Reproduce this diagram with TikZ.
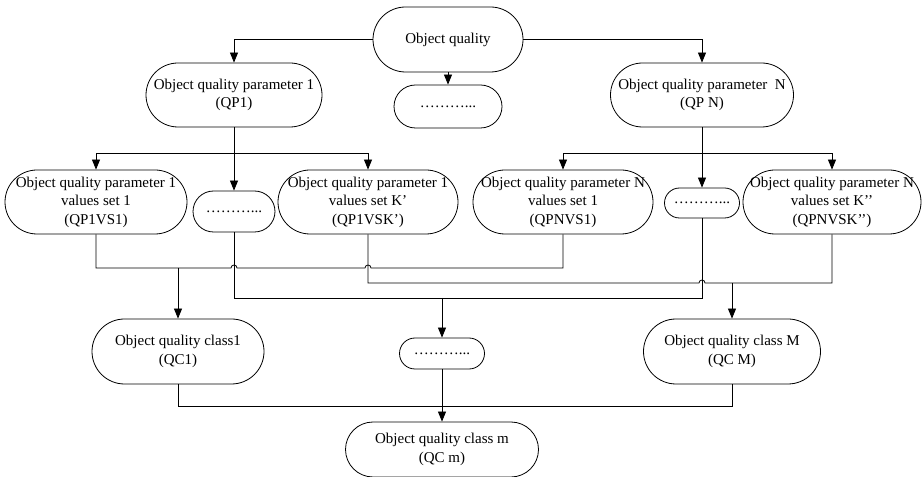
\documentclass[tikz,border=0pt]{standalone}
\usepackage{fontspec}
\setmainfont{Liberation Serif}
\usetikzlibrary{arrows.meta,shapes.misc}
\begin{document}
\begin{tikzpicture}[x=1pt,y=1pt,
  every node/.style={font=\fontsize{15}{18.5}\selectfont, align=center},
  capsule/.style n args={3}{draw, line width=0.8pt, inner sep=0pt,
    rounded rectangle, rounded rectangle arc length=180,
    minimum width=#1pt, minimum height=#2pt,
    label={[align=center]center:#3}},
  link/.style={line width=0.8pt},
  arr/.style={link, -{Triangle[length=10pt,width=8pt]}}]
\useasboundingbox (0,0) rectangle (922,477);

% root and first level
\node[capsule={150}{65}{Object quality}] (top)  at (448,437.5) {};
\node[capsule={108}{43}{………...}] (dtop) at (448,370.5) {};
\node[capsule={176}{64}{Object quality parameter 1\\(QP1)}] (qp1)  at (234,382) {};
\node[capsule={183}{64}{Object quality parameter~~N\\(QP N)}] (qpn)  at (702,382) {};

% value sets
\node[capsule={182}{64}{Object quality parameter 1\\values set 1\\(QP1VS1)}] (v11) at (96,275) {};
\node[capsule={82}{41}{………...}] (d1) at (234,265.5) {};
\node[capsule={180}{64}{Object quality parameter 1\\values set K’\\(QP1VSK’)}] (v1k) at (368,275) {};
\node[capsule={180}{64}{Object quality parameter N\\values set 1\\(QPNVS1)}] (vn1) at (563,275) {};
\node[capsule={75}{30}{………...}] (d2) at (702,274) {};
\node[capsule={178}{64}{Object quality parameter N\\values set K’’\\(QPNVSK’’)}] (vnk) at (832,275) {};

% classes
\node[capsule={172}{65}{Object quality class1\\(QC1)}] (qc1) at (178,125.5) {};
\node[capsule={85}{31}{………...}] (dm) at (442,123.5) {};
\node[capsule={177}{65}{Object quality class M\\(QC M)}] (qcM) at (732,125.5) {};
\node[capsule={193}{55}{Object quality class m\\(QC m)}] (qcm) at (442,27.5) {};

% bus points
\coordinate (b1) at (234,324);
\coordinate (bn) at (702,324);
\coordinate (ja) at (178,209);
\coordinate (jb) at (442,179);
\coordinate (jc) at (732,194);

% root to parameters
\draw[arr] (top.west) -| (qp1.north);
\draw[arr] (top.east) -| (qpn.north);
\draw[arr] (top.south) -- (dtop.north);

% parameters to value sets
\draw[arr] (qp1.south) -- (d1.north);
\draw[arr] (b1) -| (v11.north);
\draw[arr] (b1) -| (v1k.north);
\draw[arr] (qpn.south) -- (d2.north);
\draw[arr] (bn) -| (vn1.north);
\draw[arr] (bn) -| (vnk.north);

% collecting lines with line jumps
\draw[link] (v11.south) |- (231,209) arc[start angle=180,end angle=0,radius=3]
  -- (365,209) arc[start angle=180,end angle=0,radius=3] -- (563,209) -- (vn1.south);
\draw[link] (d1.south) |- (702,179) -- (d2.south);
\draw[link] (v1k.south) |- (699,194) arc[start angle=180,end angle=0,radius=3]
  -- (832,194) -- (vnk.south);
\draw[link] (qc1.south) |- (732,71) -- (qcM.south);

% to classes
\draw[arr] (ja) -- (qc1.north);
\draw[arr] (jb) -- (dm.north);
\draw[arr] (jc) -- (qcM.north);
\draw[arr] (dm.south) -- (qcm.north);
\end{tikzpicture}
\end{document}
